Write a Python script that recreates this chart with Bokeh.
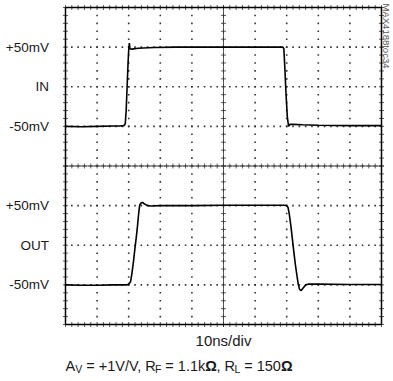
import numpy as np
from bokeh.plotting import figure
from bokeh.models import Range1d, Label
from bokeh.core.properties import value
from bokeh.embed import file_html
from bokeh.resources import INLINE

# ---- data (time in ns, voltage in mV) ----
in_time = [0, 5, 10, 15, 17, 18.5, 18.9, 19.2, 19.5, 19.8, 20.0, 20.2, 20.4, 21, 23, 28, 35, 40, 50,
           60, 66, 68.8, 69.1, 69.4, 69.8, 70.2, 70.6, 71.0, 72, 75, 80, 90, 100]
in_mv = [-50, -50.5, -50, -49.5, -49.5, -49, -47, -30, 0, 30, 46, 55, 48, 47.5, 48.5, 49.5, 50, 50, 50,
         50, 50, 50, 48, 25, -10, -38, -50, -47.5, -47.5, -48, -48.5, -49, -49]

out_time = [0, 5, 10, 15, 19.5, 20.0, 20.6, 21.0, 21.5, 22.0, 22.4, 22.8, 23.2, 23.5, 24.0, 24.4, 25.0,
            26.0, 27, 30, 40, 50, 60, 69.5, 70.0, 70.4, 70.8, 71.3, 71.8, 72.3, 72.8, 73.3, 73.7, 74.1,
            74.6, 75.2, 76.0, 77, 80, 90, 100]
out_mv = [-50, -50.5, -50.5, -50, -50, -49, -46, -36, -21, -3, 10, 25, 42, 51, 53.5, 54, 52,
          50, 49.5, 50, 50, 50.5, 50.5, 50.5, 50, 48, 40, 25, 8, -10, -26, -40, -50, -56,
          -57, -54, -50, -49, -49, -49.5, -49.5]

in_center_div = 6
out_center_div = 2
mv_per_div = 50
n_xdiv, n_ydiv = 10, 8
ns_per_div = 10

tick_pos = [1, 2, 3, 5, 6, 7]
tick_labels = ["-50mV", "OUT", "+50mV", "-50mV", "IN", "+50mV"]
x_label = "10ns/div"
right_tag = "MAX4188toc34"

FONT = "Liberation Sans"
TXT = "#1a1a1a"
NB = "\u00a0"

# ranges chosen so the scope screen (0..100 ns, 0..8 div) sits where the reference has it
p = figure(width=393, height=381, x_range=Range1d(-20.57, 103.8), y_range=Range1d(-1.4385, 8.177),
           x_axis_type=None, y_axis_type=None, output_backend="svg", toolbar_location=None,
           min_border=0)
p.background_fill_color = "white"
p.border_fill_color = "white"
p.grid.visible = False
p.outline_line_color = None

x_end = n_xdiv * ns_per_div

# ---- graticule ----
minor_x = np.arange(0, x_end + 0.001, ns_per_div / 5)
minor_y = np.arange(0, n_ydiv + 0.001, 0.2)
gx, gy = [], []
for row in [1, 2, 3, 5, 6, 7]:
    gx += list(minor_x)
    gy += [row] * len(minor_x)
for col in [10, 20, 30, 40, 60, 70, 80, 90]:
    gx += [col] * len(minor_y)
    gy += list(minor_y)
p.scatter(gx, gy, marker="square", size=1.6, fill_color="#333333", line_color=None)

p.line([0, x_end], [4, 4], line_color="#333333", line_width=0.8)
p.line([50, 50], [0, n_ydiv], line_color="#333333", line_width=0.8)
p.scatter(list(minor_x), [4] * len(minor_x), marker="cross", size=5, line_color="#333333", line_width=0.8)
p.scatter([50] * len(minor_y), list(minor_y), marker="cross", size=5, line_color="#333333", line_width=0.8)
# inward edge ticks
p.scatter(list(minor_x) * 2, [0] * len(minor_x) + [n_ydiv] * len(minor_x), marker="dash",
          angle=np.pi / 2, size=5, line_color="#333333", line_width=0.8)
p.scatter([0] * len(minor_y) + [x_end] * len(minor_y), list(minor_y) * 2, marker="dash",
          size=5, line_color="#333333", line_width=0.8)

# screen border
p.quad(left=[0], right=[x_end], bottom=[0], top=[n_ydiv], fill_color=None,
       line_color="black", line_width=1.5)

# ---- traces ----
y_in = [in_center_div + v / mv_per_div for v in in_mv]
y_out = [out_center_div + v / mv_per_div for v in out_mv]
p.line(in_time, y_in, line_color="black", line_width=1.6)
p.line(out_time, y_out, line_color="black", line_width=1.6)

# ---- y labels ----
p.text(x=[0] * len(tick_pos), y=tick_pos, text=tick_labels, x_offset=-16.5,
       text_align="right", text_baseline="middle", text_font=value(FONT),
       text_font_size="13.5px", text_color=TXT)

# ---- bottom texts ----
p.add_layout(Label(x=50, y=-0.404, text=x_label, text_align="center", text_baseline="middle",
                   text_font=FONT, text_font_size="15px", text_color=TXT))

W = {"A": .667, "V": .667, " ": .278, NB: .278, "=": .584, "+": .584, "1": .556, "/": .278, ",": .278,
     "R": .722, ".": .278, "k": .5, "F": .611, "L": .556, "5": .556, "0": .556, "Ω": .77}
main_size = 14.5
sub_size = 10.5
pieces = [("A", "n"), ("V", "s"), (" = +1V/V, R", "n"), ("F", "s"), (" = 1.1k", "n"), ("Ω", "b"),
          (", R", "n"), ("L", "s"), (" = 150", "n"), ("Ω", "b")]
xoff = 0.0
for txt, kind in pieces:
    size = sub_size if kind == "s" else main_size
    shown = txt.replace(" ", NB)
    p.add_layout(Label(x=0, y=-1.035, x_offset=xoff, y_offset=(-3.5 if kind == "s" else 0), text=shown,
                       text_align="left", text_baseline="alphabetic", text_font=FONT,
                       text_font_size=f"{size}px", text_color=TXT,
                       text_font_style=("bold" if kind == "b" else "normal")))
    xoff += sum(W.get(c, .556) for c in shown) * size * (0.97 if kind == "n" and shown.endswith("R") else 1.0)

p.add_layout(Label(x=x_end, y=n_ydiv, x_offset=5.5, y_offset=4, angle=-np.pi / 2, text=right_tag,
                   text_align="left", text_baseline="middle", text_font=FONT,
                   text_font_size="9.5px", text_color="#555555"))

open("out.html", "w").write(file_html(p, INLINE))
